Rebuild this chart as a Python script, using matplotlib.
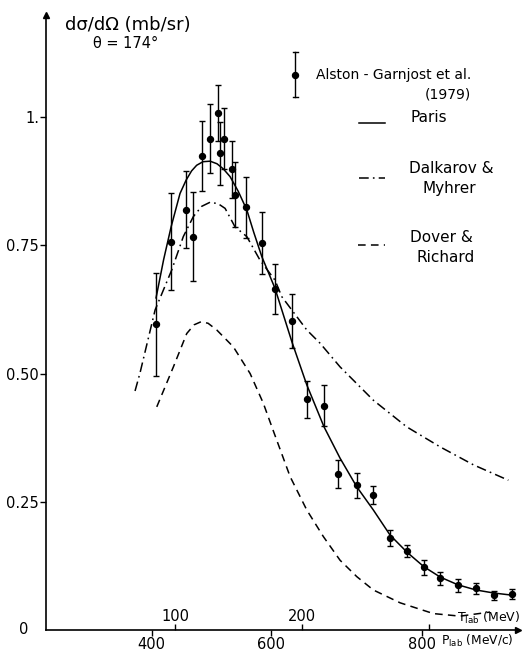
import numpy as np
import matplotlib.pyplot as plt
from matplotlib.lines import Line2D

plt.rcParams['font.family'] = 'DejaVu Sans'
plt.rcParams['lines.scale_dashes'] = False

# Alston-Garnjost et al. (1979) data: T_lab (MeV), dsigma/dOmega (mb/sr), error
ag_T = [85.0, 96.9, 108.7, 114.4, 121.0, 127.6, 133.9, 135.4, 138.6, 144.6,
        147.2, 155.9, 168.7, 178.7, 192.4, 203.7, 217.3, 228.1, 243.1, 256.1,
        269.3, 282.9, 296.1, 308.9, 322.8, 337.0, 351.2, 365.1]
ag_v = [0.596, 0.757, 0.819, 0.767, 0.924, 0.958, 1.008, 0.929, 0.958, 0.898,
        0.849, 0.824, 0.755, 0.665, 0.603, 0.450, 0.437, 0.304, 0.282, 0.263,
        0.179, 0.154, 0.122, 0.101, 0.087, 0.081, 0.068, 0.070]
ag_err = [0.100, 0.095, 0.075, 0.087, 0.068, 0.067, 0.055, 0.062, 0.060, 0.055,
          0.064, 0.060, 0.060, 0.048, 0.053, 0.036, 0.040, 0.027, 0.024, 0.018,
          0.016, 0.012, 0.015, 0.013, 0.012, 0.011, 0.009, 0.009]

# Paris potential
paris_T = [85.0, 91.0, 96.9, 103.9, 108.7, 113.0, 117.0, 122.0, 127.6, 133.0,
           138.0, 143.3, 149.8, 156.5, 162.0, 168.3, 178.7, 192.1, 203.7, 217.3,
           229.9, 243.1, 256.1, 269.3, 282.9, 296.1, 308.9, 322.8, 337.0, 351.2,
           365.1]
paris_v = [0.647, 0.722, 0.786, 0.851, 0.877, 0.895, 0.906, 0.913, 0.914, 0.909,
           0.899, 0.884, 0.855, 0.819, 0.775, 0.728, 0.666, 0.561, 0.478, 0.396,
           0.335, 0.279, 0.234, 0.185, 0.151, 0.123, 0.103, 0.088, 0.078, 0.072,
           0.068]

# Dalkarov & Myhrer
dm_T = [68.5, 72.4, 84.3, 97.4, 106.5, 114.4, 121.0, 127.6, 134.0, 139.4, 147.2,
        156.5, 166.9, 178.7, 184.0, 203.7, 214.2, 229.9, 256.1, 282.4, 308.7,
        334.9, 362.4]
dm_v = [0.466, 0.501, 0.624, 0.702, 0.767, 0.806, 0.826, 0.834, 0.831, 0.822,
        0.786, 0.767, 0.721, 0.682, 0.650, 0.585, 0.559, 0.513, 0.448, 0.396,
        0.357, 0.322, 0.292]

# Dover & Richard
dr_T = [85.6, 98.7, 109.2, 115.0, 120.5, 126.0, 132.8, 145.9, 159.1, 169.5,
        177.4, 190.6, 203.7, 216.8, 229.9, 243.1, 256.1, 277.2, 303.4, 324.4,
        348.0]
dr_v = [0.435, 0.513, 0.578, 0.595, 0.601, 0.598, 0.585, 0.552, 0.500, 0.442,
        0.388, 0.299, 0.234, 0.182, 0.136, 0.104, 0.078, 0.053, 0.032, 0.027,
        0.035]

y_ticks = [0, 0.25, 0.5, 0.75, 1.0]
y_labels = ['0', '0.25', '0.50', '0.75', '1.']
p_ticks = [400, 600, 800]        # P_lab (MeV/c)
t_ticks = [100, 200, 300]        # T_lab (MeV)
t_labels = ['100', '200', '']

m_p = 938.3
p_as_T = [np.sqrt(p**2 + m_p**2) - m_p for p in p_ticks]

W, H = 526, 652
def fx(px): return px / W
def fy(py): return 1 - py / H

fig = plt.figure(figsize=(W / 100, H / 100), dpi=100)
ax = fig.add_axes([fx(46), 22 / H, (518 - 46) / W, (630 - 15) / H])

lw = 1.1
dashdot = (0, (7, 3, 1.2, 3))
dashed = (0, (5.5, 3.8))
ax.plot(paris_T, paris_v, color='black', lw=lw, solid_capstyle='round')
ax.plot(dm_T, dm_v, color='black', lw=lw, linestyle=dashdot)
ax.plot(dr_T, dr_v, color='black', lw=lw, linestyle=dashed)
ax.errorbar(ag_T, ag_v, yerr=ag_err, fmt='o', color='black', ms=4.3,
            elinewidth=1.0, capsize=2.2, capthick=1.0, zorder=5)

ax.set_xlim(-1.6, 370)
ax.set_ylim(0, 1.199)

for s in ['top', 'right']:
    ax.spines[s].set_visible(False)
for s in ['left', 'bottom']:
    ax.spines[s].set_linewidth(1.2)

ax.set_yticks(y_ticks[1:])
ax.set_yticklabels(y_labels[1:], fontsize=10.5)
ax.tick_params(axis='y', direction='out', length=4, width=1, pad=1)
ax.text(-0.038, 0.0, y_labels[0], transform=ax.transAxes, fontsize=10.5,
        ha='right', va='center')

ax.set_xticks(p_as_T)
ax.set_xticklabels([str(p) for p in p_ticks], fontsize=10.5)
ax.tick_params(axis='x', which='major', direction='out', length=4, width=1, pad=1)
ax.set_xticks(t_ticks, minor=True)
ax.tick_params(axis='x', which='minor', direction='in', length=4, width=1)
for t, lab in zip(t_ticks, t_labels):
    ax.text(t, 0.012, lab, fontsize=10.5, ha='center', va='bottom')

# arrow heads at the axis ends
ax.plot(1, 0, '>', color='black', ms=5, transform=ax.transAxes, clip_on=False)
ax.plot(0, 1, '^', color='black', ms=5, transform=ax.transAxes, clip_on=False)

# axis titles
fig.text(fx(65), fy(25), 'dσ/dΩ (mb/sr)', fontsize=13, ha='left', va='center')
fig.text(fx(126), fy(43), 'θ = 174°', fontsize=10.5, ha='center', va='center')
fig.text(fx(457), fy(618), r'T$_{\rm lab}$ (MeV)', fontsize=9, ha='left', va='center')
fig.text(fx(441), fy(641), r'P$_{\rm lab}$ (MeV/c)', fontsize=8.8, ha='left', va='center')

# legend
fig.add_artist(Line2D([fx(295), fx(295)], [fy(52), fy(97)], color='black', lw=1.0))
fig.add_artist(Line2D([fx(292.5), fx(297.5)], [fy(52), fy(52)], color='black', lw=1.0))
fig.add_artist(Line2D([fx(292.5), fx(297.5)], [fy(97), fy(97)], color='black', lw=1.0))
fig.add_artist(Line2D([fx(295)], [fy(75)], marker='o', ms=4.3, color='black'))
fig.text(fx(316), fy(75), 'Alston - Garnjost et al.', fontsize=10, ha='left', va='center')
fig.text(fx(471), fy(94), '(1979)', fontsize=10, ha='right', va='center')

fig.add_artist(Line2D([fx(359), fx(385)], [fy(123), fy(123)], color='black', lw=lw))
fig.text(fx(410), fy(117), 'Paris', fontsize=11, ha='left', va='center')
fig.add_artist(Line2D([fx(359), fx(385)], [fy(178), fy(178)], color='black', lw=lw,
                      linestyle=dashdot))
fig.text(fx(409), fy(168), 'Dalkarov &', fontsize=11, ha='left', va='center')
fig.text(fx(423), fy(189), 'Myhrer', fontsize=11, ha='left', va='center')
fig.add_artist(Line2D([fx(358), fx(385)], [fy(245), fy(245)], color='black', lw=lw,
                      linestyle=dashed))
fig.text(fx(410), fy(238), 'Dover &', fontsize=11, ha='left', va='center')
fig.text(fx(417), fy(257), 'Richard', fontsize=11, ha='left', va='center')

fig.savefig('out.png', dpi=100, facecolor='white')
